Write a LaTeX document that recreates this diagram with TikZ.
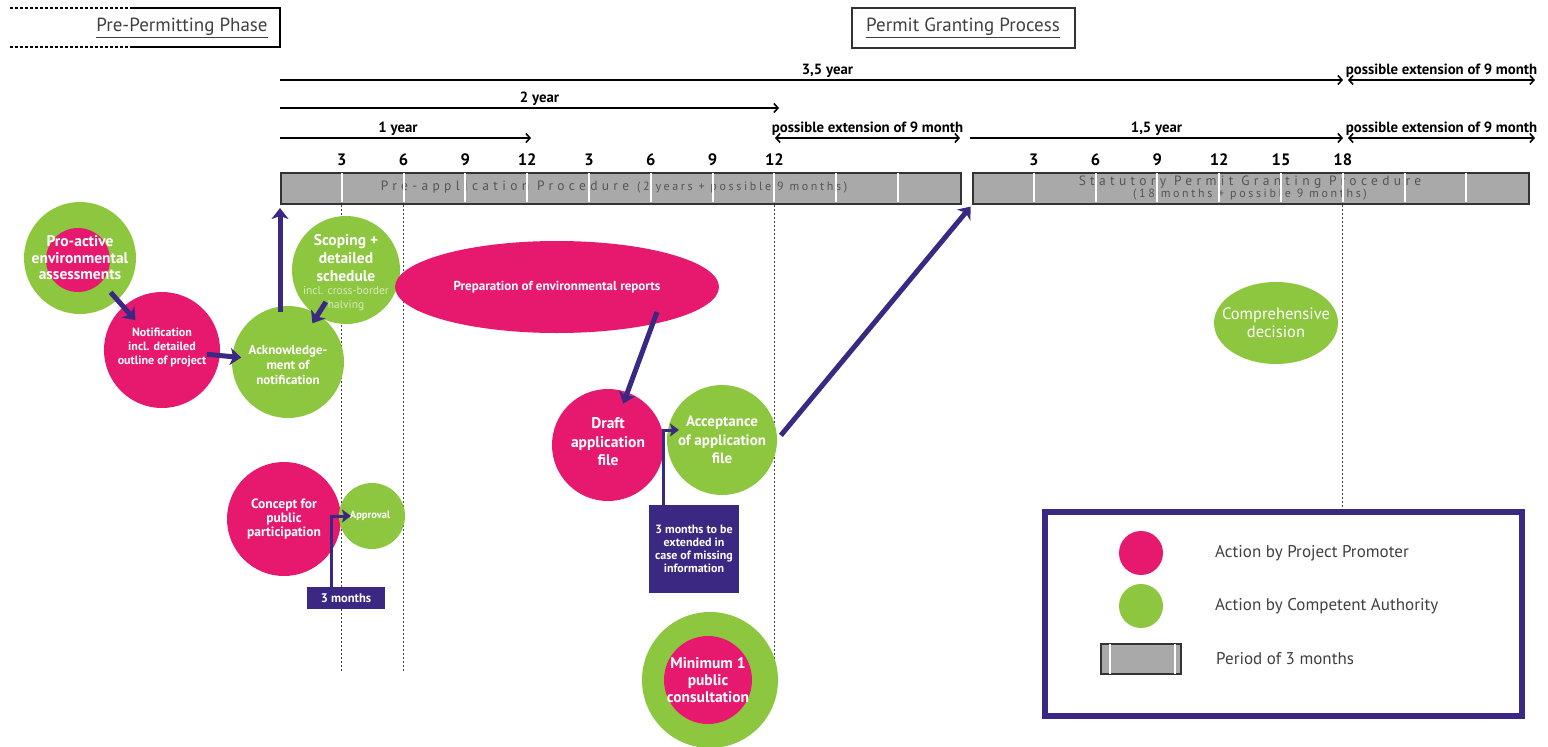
\documentclass[tikz,border=0pt]{standalone}
\usepackage{fontspec}
\setmainfont{PT Sans}
\newfontfamily\spacedfont[LetterSpace=32]{PT Sans}
\newfontfamily\spacedsmall[LetterSpace=22]{PT Sans}
\usetikzlibrary{positioning,shapes.geometric,arrows.meta,calc}

\definecolor{promoter}{HTML}{E6196E}
\definecolor{authority}{HTML}{8DC63F}
\definecolor{flowcol}{HTML}{3A2882}
\definecolor{barfill}{HTML}{A9A9A9}
\definecolor{bartext}{HTML}{555555}

\begin{document}
\begin{tikzpicture}[
  x = 1pt,
  y = -1pt,
  promo/.style = {circle, fill = promoter, inner sep = 0pt, outer sep = 0pt},
  auth/.style = {circle, fill = authority, inner sep = 0pt, outer sep = 0pt},
  txt/.style = {text = white, align = center, inner sep = 0pt,
    font = \bfseries\fontsize{12}{14}\selectfont},
  flow/.style = {draw = flowcol, line width = 5pt,
    -{Stealth[length=11pt, width=17pt, inset=3pt]}},
  link/.style = {draw = flowcol, line width = 3pt,
    -{Stealth[length=9pt, width=13pt, inset=2pt]}},
  note/.style = {fill = flowcol, text = white, align = center, inner sep = 2pt,
    font = \bfseries\fontsize{12}{13}\selectfont},
  span/.style = {line width = 1.6pt, -{Straight Barb[length=4pt, width=9pt]}},
  twoway/.style = {line width = 1.6pt,
    {Straight Barb[length=4pt, width=9pt]}-{Straight Barb[length=4pt, width=9pt]}},
  spanlbl/.style = {above, inner sep = 1.5pt, font = \bfseries\fontsize{14.8}{15}\selectfont},
  month/.style = {font = \bfseries\fontsize{16.5}{16.5}\selectfont},
  bar/.style = {draw = black!80, line width = 2pt, fill = barfill, anchor = north west,
    minimum height = 31pt, inner sep = 0pt},
  gap/.style = {white, line width = 2pt},
  guide/.style = {black!75, line width = 1.2pt, dash pattern = on 2pt off 2pt},
  phase/.style = {text = black!75, font = \fontsize{19}{19}\selectfont},
  keytxt/.style = {inner sep = 0pt, text = black!75, font = \fontsize{17}{17}\selectfont},
]

  \useasboundingbox (0,0) rectangle (1548,747);
  \fill[white] (0,0) rectangle (1548,747);

  % phase headers
  \draw[line width=1.5pt, dash pattern=on 3pt off 2pt] (10,8) -- (130,8) (10,47) -- (130,47);
  \draw[line width=2pt] (130,8) -- (280,8) -- (280,47) -- (130,47);
  \node[phase] (prephase) at (182,28) {\underline{Pre-Permitting Phase}};
  \node[phase, draw = black!80, line width = 2pt, minimum width = 223pt, minimum height = 40pt]
    (permphase) at (963,28) {\underline{Permit Granting Process}};

  % time spans
  \draw[span] (280,80) -- (1343,80) node[spanlbl, pos=.515] {3,5 year};
  \draw[twoway] (1348,80) -- (1535,80) node[spanlbl, midway] {possible extension of 9 month};
  \draw[span] (280,108) -- (779,108) node[spanlbl, pos=.52] {2 year};
  \draw[span] (280,138) -- (531,138) node[spanlbl, pos=.47] {1 year};
  \draw[twoway] (775,138) -- (960,138) node[spanlbl, midway] {possible extension of 9 month};
  \draw[span] (970,138) -- (1343,138) node[spanlbl, midway] {1,5 year};
  \draw[twoway] (1348,138) -- (1535,138) node[spanlbl, midway] {possible extension of 9 month};

  % procedure bars
  \node[bar, minimum width = 680pt] (prebar) at (280,172) {};
  \node[bar, minimum width = 556pt] (statbar) at (972,172) {};

  \foreach \k/\m in {1/3,2/6,3/9,4/12,5/3,6/6,7/9,8/12}
    \node[month] at ($(prebar.north west)+(61.8*\k,-12)$) {\m};
  \foreach \k/\m in {1/3,2/6,3/9,4/12,5/15,6/18}
    \node[month] at ($(statbar.north west)+(61.8*\k,-12)$) {\m};

  \node[text = bartext] (pretxt) at (614,187)
    {\spacedfont\fontsize{13.5}{13.5}\selectfont Pre-application Procedure
     {\spacedsmall\fontsize{12}{12}\selectfont (2 years + possible 9 months)}};
  \node[text = bartext, align = center, inner sep = 0pt] (stattxt) at (1250,188)
    {\spacedfont\fontsize{13.5}{15}\selectfont Statutory Permit Granting Procedure\\
     \spacedsmall\fontsize{12}{12}\selectfont (18 months + possible 9 months)};

  \foreach \k in {1,...,10}
    \draw[gap] ($(prebar.north west)+(61.8*\k,1)$) -- ++(0,29);
  \foreach \k in {1,...,8}
    \draw[gap] ($(statbar.north west)+(61.8*\k,1)$) -- ++(0,29);

  % month guides
  \draw[guide] ($(prebar.south west)+(61.8,0)$) -- ++(0,467);
  \draw[guide] ($(prebar.south west)+(123.6,0)$) -- ++(0,467);
  \draw[guide] ($(prebar.south west)+(494.4,0)$) -- ++(0,455);
  \draw[guide] ($(statbar.south west)+(370.8,0)$) -- ++(0,302);

  % actions
  \node[auth, minimum size = 112pt] (proactivering) at (80,258) {};
  \node[promo, minimum size = 64pt] (proactive) at (78,260) {};
  \node[txt, font = \bfseries\fontsize{15.5}{16.5}\selectfont] at (proactivering) {Pro-active\\environmental\\assessments};

  \node[promo, minimum size = 116pt] (notif) at (162,350) {};
  \node[txt] at ([yshift=3pt]notif) {Notification\\incl. detailed\\outline of project};

  \node[auth, minimum size = 112pt] (ack) at (288,362) {};
  \node[txt, font = \bfseries\fontsize{13}{15}\selectfont] at ([yshift=-3pt]ack) {Acknowledge-\\ment of\\notification};

  \node[auth, minimum size = 108pt] (scoping) at (346,270) {};
  \node[txt, font = \bfseries\fontsize{15.5}{18}\selectfont] at ([yshift=-3pt]scoping)
    {Scoping +\\detailed\\schedule\\[-5pt]
     {\color{authority!35}\mdseries\fontsize{11.5}{13}\selectfont incl. cross-border}\\[-4pt]
     {\color{authority!35}\mdseries\fontsize{11.5}{13}\selectfont halving}};

  \node[promo, ellipse, minimum width = 324pt, minimum height = 92pt] (prep) at (557,287) {};
  \node[txt, font = \bfseries\fontsize{13}{15}\selectfont] at (prep) {Preparation of environmental reports};

  \node[promo, minimum size = 112pt] (draft) at (608,445) {};
  \node[txt, font = \bfseries\fontsize{15.5}{18.5}\selectfont] at ([yshift=3pt]draft) {Draft\\application\\file};

  \node[auth, minimum size = 110pt] (accept) at (722,440) {};
  \node[txt, font = \bfseries\fontsize{15}{18.5}\selectfont] at (accept) {Acceptance\\of application\\file};

  \node[promo, minimum size = 114pt] (concept) at (284,519) {};
  \node[txt, font = \bfseries\fontsize{13.5}{14}\selectfont] at (concept) {Concept for\\public\\participation};

  \node[auth, minimum size = 66pt] (approval) at (372,516) {};
  \node[txt, font = \bfseries\fontsize{10.5}{12}\selectfont] at ([xshift=-2pt]approval) {Approval};

  \node[auth, minimum size = 136pt] (consultring) at (710,680) {};
  \node[promo, minimum size = 88pt] (consult) at (708,680) {};
  \node[txt, font = \bfseries\fontsize{15.5}{17}\selectfont] at (consult) {Minimum 1\\public\\consultation};

  \node[auth, ellipse, minimum width = 124pt, minimum height = 82pt] (decision) at (1276,323) {};
  \node[txt, font = \fontsize{16.5}{18}\selectfont] at (decision) {Comprehensive\\decision};

  % notes
  \node[note, minimum width = 78pt, minimum height = 22pt, font = \bfseries\fontsize{12.5}{13}\selectfont]
    (threemonths) at (346,598) {3 months};
  \node[note, minimum width = 90pt, minimum height = 88pt] (missinginfo) at (694,549)
    {3 months to be\\extended in\\case of missing\\information};

  % flow
  \draw[flow, shorten <=-10pt, shorten >=-18pt] (proactivering) -- (notif);
  \draw[flow, shorten <=-13pt, shorten >=-9pt] (notif) -- (ack);
  \draw[flow, shorten >=3pt] ([yshift=-6pt]ack.north -| prebar.south west) -- (prebar.south west);
  \draw[flow, shorten <=-15pt, shorten >=-9pt] (ack) -- (scoping);
  \draw[flow, shorten >=-12pt] ([shift={(100pt,-25pt)}]prep.center) -- (draft);
  \draw[flow, shorten <=6pt, shorten >=2pt] (accept.east) -- (statbar.south west);
  \draw[link, shorten >=-12pt] ([xshift=-15pt]threemonths.north) |- (approval.west);
  \draw[link, shorten >=-12pt] ([xshift=-31pt]missinginfo.north) |- ([yshift=10pt]accept.west);

  % legend
  \draw[flowcol, line width = 6pt] (1045,512) rectangle (1522,716);
  \node[promo, minimum size = 44pt] (keypromo) at (1141,553) {};
  \node[auth, minimum size = 44pt] (keyauth) at (1141,606) {};
  \node[draw = black!80, line width = 2pt, fill = barfill, minimum width = 80pt,
    minimum height = 30pt, inner sep = 0pt] (keyperiod) at (1141,659) {};
  \draw[gap] ([xshift=10pt, yshift=-1pt]keyperiod.north west) -- ([xshift=10pt, yshift=1pt]keyperiod.south west);
  \draw[gap] ([xshift=-7pt, yshift=-1pt]keyperiod.north east) -- ([xshift=-7pt, yshift=1pt]keyperiod.south east);
  \node[keytxt, right = 52pt of keypromo] {Action by Project Promoter};
  \node[keytxt, right = 52pt of keyauth] {Action by Competent Authority};
  \node[keytxt, right = 34pt of keyperiod] {Period of 3 months};

\end{tikzpicture}
\end{document}
